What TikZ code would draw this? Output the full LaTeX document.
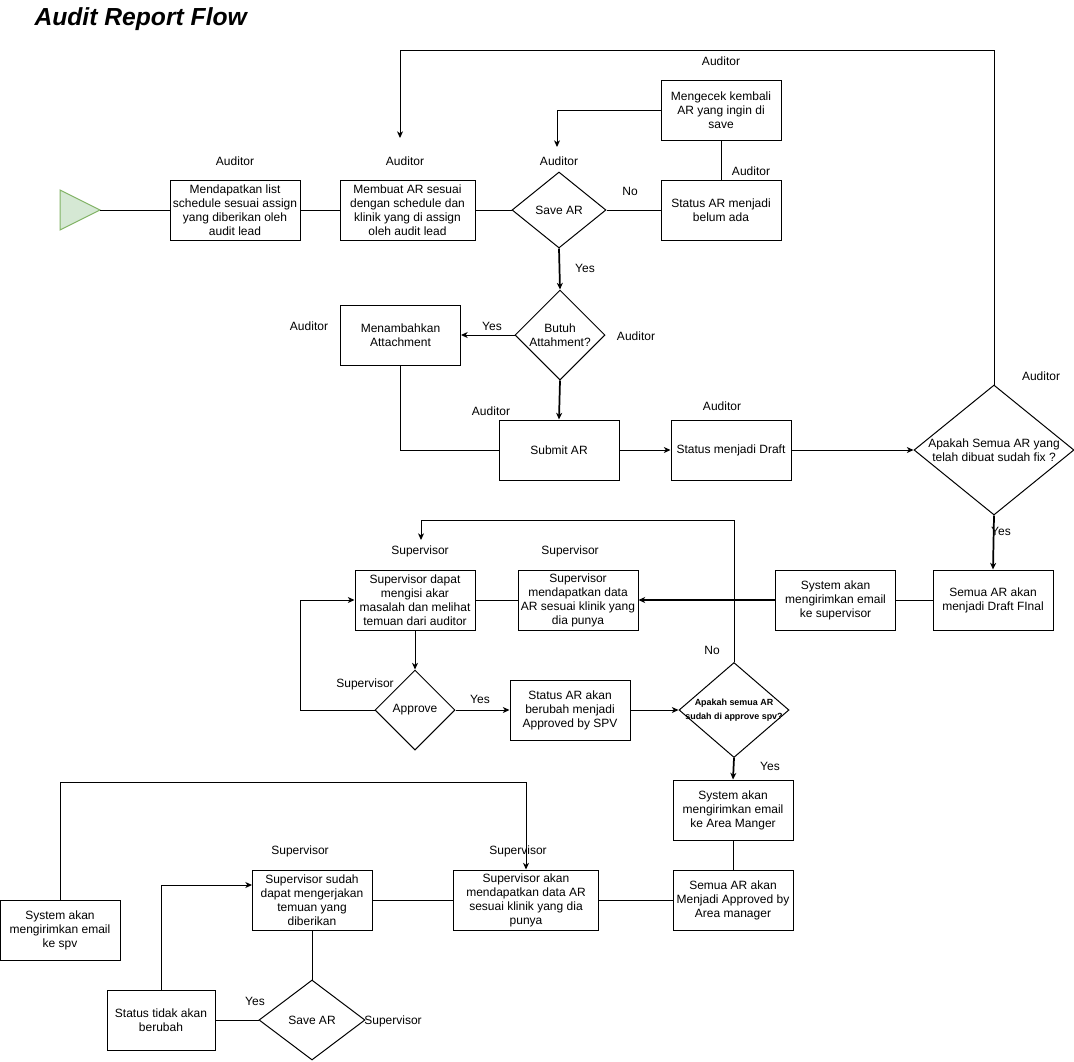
\documentclass[tikz,border=0pt]{standalone}
\usepackage{fontspec}
\setmainfont{Liberation Sans}
\usetikzlibrary{shapes.geometric,arrows.meta}
\begin{document}
\begin{tikzpicture}[x=0.75pt,y=-0.75pt,
  every path/.style={line width=0.75pt},
  bx/.style={draw, rectangle, inner sep=0pt, align=center, minimum width=90pt, minimum height=45pt, font=\fontsize{9}{10.5}\selectfont},
  dia/.style={draw, diamond, inner sep=0pt, label={[font=\fontsize{9}{10.5}\selectfont, align=center]center:#1}},
  lbl/.style={inner sep=0pt, font=\fontsize{9}{10.5}\selectfont},
  arr/.style={-{Stealth[length=5pt,width=4.5pt,inset=1.5pt]}},
  thk/.style={line width=1.3pt}]
\useasboundingbox (0,0) rectangle (1074,1061);
\node[anchor=west, inner sep=0pt, font=\fontsize{18.5}{20}\selectfont\bfseries\itshape] (title) at (34,19) {Audit Report Flow};

% start
\coordinate (st) at (100,210);
\draw[draw={rgb,255:red,130;green,179;blue,102}, fill={rgb,255:red,213;green,232;blue,212}] (60,190) -- (st) -- (60,230) -- cycle;

% boxes
\node[bx, minimum width=97.5pt] (b1) at (235,210) {Mendapatkan list\\schedule sesuai assign\\yang diberikan oleh\\audit lead};
\node[bx, minimum width=101.25pt] (b2) at (407.5,210) {Membuat AR sesuai\\dengan schedule dan\\klinik yang di assign\\oleh audit lead};
\node[dia={Save AR}, minimum width=70.5pt, minimum height=57pt] (d1) at (559,210) {};
\node[bx] (b3) at (721,210) {Status AR menjadi\\belum ada};
\node[bx] (b4) at (721,110) {Mengecek kembali\\AR yang ingin di\\save};
\node[dia={Butuh\\Attahment?}, minimum width=67.5pt, minimum height=67.5pt] (d2) at (560,335) {};
\node[bx] (b5) at (400.5,335) {Menambahkan\\Attachment};
\node[bx] (b6) at (559,450) {Submit AR};
\node[bx] (b7) at (731,450) {Status menjadi Draft};
\node[dia={Apakah Semua AR yang\\telah dibuat sudah fix ?}, minimum width=120pt, minimum height=97.5pt] (d3) at (994,450) {};
\node[bx] (b8) at (993,600) {Semua AR akan\\menjadi Draft FInal};
\node[bx] (b9) at (835.5,600) {System akan\\mengirimkan email\\ke supervisor};
\node[bx] (b10) at (578,600) {Supervisor\\mendapatkan data\\AR sesuai klinik yang\\dia punya};
\node[bx] (b11) at (415,600) {Supervisor dapat\\mengisi akar\\masalah dan melihat\\temuan dari auditor};
\node[dia={Approve}, minimum width=60pt, minimum height=60pt] (d4) at (415,710) {};
\node[bx] (b12) at (570,710) {Status AR akan\\berubah menjadi\\Approved by SPV};
\node[draw, diamond, inner sep=0pt, minimum width=82.5pt, minimum height=71.25pt,
  label={[font=\fontsize{6.7}{10.5}\selectfont\bfseries, align=center]center:Apakah semua AR\\sudah di approve spv?}] (d5) at (734,710) {};
\node[bx] (b13) at (733,810) {System akan\\mengirimkan email\\ke Area Manger};
\node[bx] (b14) at (733,900) {Semua AR akan\\Menjadi Approved by\\Area manager};
\node[bx, minimum width=108.75pt] (b15) at (526,900) {Supervisor akan\\mendapatkan data AR\\sesuai klinik yang dia\\punya};
\node[bx] (b16) at (312,900) {Supervisor sudah\\dapat mengerjakan\\temuan yang\\diberikan};
\node[dia={Save AR}, minimum width=79.5pt, minimum height=60pt] (d6) at (312,1020) {};
\node[bx, minimum width=81pt] (b17) at (161,1020) {Status tidak akan\\berubah};
\node[bx] (b18) at (60,930) {System akan\\mengirimkan email\\ke spv};

% role labels
\node[lbl] (l1) at (235,161) {Auditor};
\node[lbl] (l2) at (405,161) {Auditor};
\node[lbl] (l3) at (559,161) {Auditor};
\node[lbl] (l4) at (721,61) {Auditor};
\node[lbl] (l5) at (751,171) {Auditor};
\node[lbl] (l6) at (309,326) {Auditor};
\node[lbl] (l7) at (636,336) {Auditor};
\node[lbl] (l8) at (491,411) {Auditor};
\node[lbl] (l9) at (722,406) {Auditor};
\node[lbl] (l10) at (1041,376) {Auditor};
\node[lbl] (s1) at (420,551) {Supervisor};
\node[lbl] (s2) at (570,551) {Supervisor};
\node[lbl] (s3) at (365,684) {Supervisor};
\node[lbl] (s4) at (300,851) {Supervisor};
\node[lbl] (s5) at (518,851) {Supervisor};
\node[lbl] (s6) at (393,1021) {Supervisor};
% yes/no labels
\node[lbl] (n1) at (630,191) {No};
\node[lbl] (y1) at (585,268) {Yes};
\node[lbl] (y2) at (492,326) {Yes};
\node[lbl] (y3) at (1001,531) {Yes};
\node[lbl] (y4) at (480,699) {Yes};
\node[lbl] (n2) at (712,650) {No};
\node[lbl] (y5) at (770,766) {Yes};
\node[lbl] (y6) at (255,1001) {Yes};

% connectors
\coordinate (a1) at (557,147);
\coordinate (a2) at (400,138);
\coordinate (a3) at (421,540);
\coordinate (e16) at (252,885);
\draw (st) -- (b1.west);
\draw (b1) -- (b2);
\draw (b2) -- (d1);
\draw (d1) -- (b3);
\draw (b3) -- (b4);
\draw[arr] (b4.west) -| (a1);
\draw[arr, thk] (d1.south) -- (d2.north);
\draw[arr] (d2.west) -- (b5.east);
\draw (b5.south) |- (b6.west);
\draw[arr, thk] (d2.south) -- (b6.north);
\draw[arr] (b6) -- (b7);
\draw[arr] (b7.east) -- (d3.west);
\draw[arr] (d3.north) -- (994,50) -| (a2);
\draw[arr, thk] (d3.south) -- (b8.north);
\draw (b8) -- (b9);
\draw[arr, thk] (b9.west) -- (b10.east);
\draw (b10) -- (b11);
\draw[arr] (b11.south) -- (d4.north);
\draw[arr] (d4.west) -- (300,710) |- (b11.west);
\draw[arr] (d4.east) -- (b12.west);
\draw[arr] (b12.east) -- (d5.west);
\draw[arr] (d5.north) -- (734,520) -| (a3);
\draw[arr, thk] (d5.south) -- (b13.north);
\draw (b13) -- (b14);
\draw (b14) -- (b15);
\draw (b15) -- (b16);
\draw (b16) -- (d6);
\draw (d6) -- (b17);
\draw[arr] (b17.north) |- (e16);
\draw[arr] (b18.north) -- (60,782) -| (b15.north);
\end{tikzpicture}
\end{document}
